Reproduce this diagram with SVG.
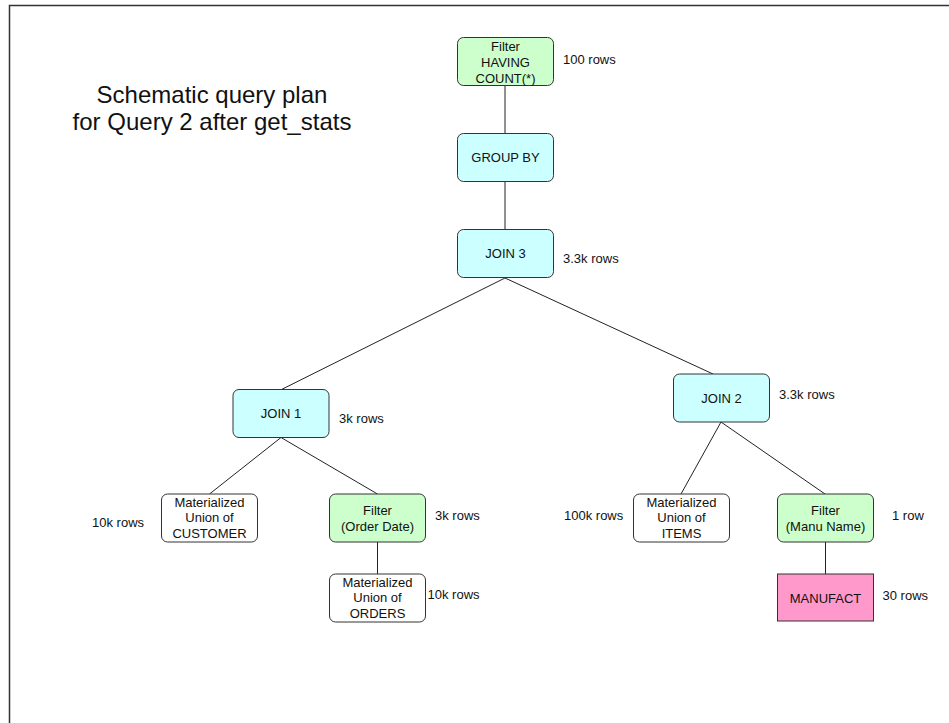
<svg xmlns="http://www.w3.org/2000/svg" width="949" height="723" viewBox="0 0 949 723">
<style>
text{font-family:"Liberation Sans",Arial,sans-serif;fill:#111}
.n{font-size:13px;text-anchor:middle}
.r{font-size:13px}
.t{font-size:24px;text-anchor:middle}
.box{stroke:#333;stroke-width:1}
.filter{fill:#CCFFCC}
.join{fill:#CCFFFF}
.mat{fill:#FFFFFF}
.tab{fill:#FF99CC}
.c line{stroke:#222;stroke-width:1}
</style>
<rect x="9.5" y="5.5" width="1000" height="1000" fill="#fff" stroke="#333" stroke-width="1.5"/>
<g id="title">
<text class="t" x="212" y="102.5">Schematic query plan</text>
<text class="t" x="212" y="130">for Query 2 after get_stats</text>
</g>
<g class="c" id="connectors">
<line x1="505" y1="86" x2="505" y2="133"/>
<line x1="505" y1="182" x2="505" y2="229"/>
<line x1="505" y1="278" x2="281.5" y2="389.5"/>
<line x1="505" y1="278" x2="713" y2="374"/>
<line x1="281" y1="437.5" x2="209.5" y2="494"/>
<line x1="281" y1="437.5" x2="377.5" y2="494"/>
<line x1="377.5" y1="542" x2="377.5" y2="574"/>
<line x1="721" y1="422" x2="681" y2="494"/>
<line x1="721" y1="422" x2="825" y2="494"/>
<line x1="825.5" y1="542" x2="825.5" y2="574"/>
</g>
<g id="filter-having">
<rect class="box filter" x="457.5" y="37.5" width="96" height="48" rx="6"/>
<text class="n" x="505.5" y="51">Filter</text>
<text class="n" x="505.5" y="67">HAVING</text>
<text class="n" x="505.5" y="83">COUNT(*)</text>
<text class="r" x="563" y="64">100 rows</text>
</g>
<g id="group-by">
<rect class="box join" x="457.5" y="133.5" width="96" height="48" rx="6"/>
<text class="n" x="505.5" y="162">GROUP BY</text>
</g>
<g id="join3">
<rect class="box join" x="457.5" y="229.5" width="96" height="48" rx="6"/>
<text class="n" x="505.5" y="258">JOIN 3</text>
<text class="r" x="563" y="263">3.3k rows</text>
</g>
<g id="join1">
<rect class="box join" x="233" y="389.5" width="96" height="48" rx="6"/>
<text class="n" x="281" y="418">JOIN 1</text>
<text class="r" x="339" y="423">3k rows</text>
</g>
<g id="join2">
<rect class="box join" x="673.5" y="374" width="96" height="48" rx="6"/>
<text class="n" x="721.5" y="402.5">JOIN 2</text>
<text class="r" x="779" y="399">3.3k rows</text>
</g>
<g id="customer">
<rect class="box mat" x="161.5" y="494" width="96" height="48" rx="6"/>
<text class="n" x="209.5" y="506.5">Materialized</text>
<text class="n" x="209.5" y="522">Union of</text>
<text class="n" x="209.5" y="537.5">CUSTOMER</text>
<text class="r" x="92" y="527">10k rows</text>
</g>
<g id="filter-orderdate">
<rect class="box filter" x="329.5" y="494" width="96" height="48" rx="6"/>
<text class="n" x="377.5" y="515">Filter</text>
<text class="n" x="377.5" y="530.5">(Order Date)</text>
<text class="r" x="435" y="519.5">3k rows</text>
</g>
<g id="orders">
<rect class="box mat" x="329.5" y="574" width="96" height="48" rx="6"/>
<text class="n" x="377.5" y="586.5">Materialized</text>
<text class="n" x="377.5" y="602">Union of</text>
<text class="n" x="377.5" y="617.5">ORDERS</text>
<text class="r" x="427.5" y="599">10k rows</text>
</g>
<g id="items">
<rect class="box mat" x="633.5" y="494" width="96" height="48" rx="6"/>
<text class="n" x="681.5" y="506.5">Materialized</text>
<text class="n" x="681.5" y="522">Union of</text>
<text class="n" x="681.5" y="537.5">ITEMS</text>
<text class="r" x="564" y="519.5">100k rows</text>
</g>
<g id="filter-manuname">
<rect class="box filter" x="777.5" y="494" width="96" height="48" rx="6"/>
<text class="n" x="825.5" y="515">Filter</text>
<text class="n" x="825.5" y="530.5">(Manu Name)</text>
<text class="r" x="892" y="519.5">1 row</text>
</g>
<g id="manufact">
<rect class="box tab" x="777.5" y="574" width="96" height="47"/>
<text class="n" x="825.5" y="602.5">MANUFACT</text>
<text class="r" x="882.5" y="600">30 rows</text>
</g>
</svg>
